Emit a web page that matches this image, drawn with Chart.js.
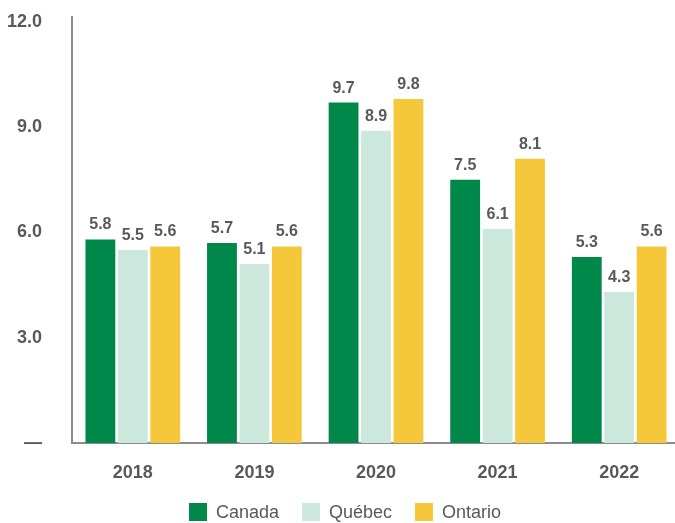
<!DOCTYPE html>
<html>
<head>
<meta charset="utf-8">
<script src="https://cdn.jsdelivr.net/npm/chart.js@4.4.1/dist/chart.umd.min.js"></script>
<style>
  html, body { margin: 0; padding: 0; background: #ffffff; overflow: hidden; }
  #wrap { position: relative; width: 680px; height: 523px; }
  #legend {
    position: absolute; left: 0; top: 503px; width: 690px;
    display: flex; justify-content: center; gap: 23px;
    font: 18px 'Liberation Sans', Arial, sans-serif; color: #595959;
  }
  #legend span { display: flex; align-items: center; height: 18px; line-height: 18px; }
  #legend i { display: inline-block; width: 18px; height: 18px; margin-right: 9px; }
</style>
</head>
<body>
<div id="wrap">
  <canvas id="chart"></canvas>
  <div id="legend"></div>
</div>
<script>
// Unemployment rate by year, Canada vs Québec vs Ontario
const years = ['2018', '2019', '2020', '2021', '2022'];
const canada = [5.8, 5.7, 9.7, 7.5, 5.3];
const quebec = [5.5, 5.1, 8.9, 6.1, 4.3];
const ontario = [5.6, 5.6, 9.8, 8.1, 5.6];
const yTicks = [0, 3, 6, 9, 12];

const seriesNames = ['Canada', 'Québec', 'Ontario'];
const seriesColors = ['#00874a', '#cce7dc', '#f5c83c'];

const TEXT = '#595959';
const AXIS = '#8c8c8c';
const FONT = "'Liberation Sans', Arial, sans-serif";

// Draws the value above each bar
const barValues = {
  id: 'barValues',
  afterDatasetsDraw(chart) {
    const ctx = chart.ctx;
    ctx.save();
    ctx.font = 'bold 16px ' + FONT;
    ctx.fillStyle = TEXT;
    ctx.textAlign = 'center';
    ctx.textBaseline = 'alphabetic';
    chart.data.datasets.forEach((ds, i) => {
      chart.getDatasetMeta(i).data.forEach((bar, j) => {
        ctx.fillText(ds.data[j].toFixed(1), bar.x, bar.y - 10);
      });
    });
    ctx.restore();
  }
};

const chart = new Chart(document.getElementById('chart'), {
  type: 'bar',
  data: {
    labels: years,
    datasets: [
      { label: seriesNames[0], data: canada, backgroundColor: seriesColors[0] },
      { label: seriesNames[1], data: quebec, backgroundColor: seriesColors[1] },
      { label: seriesNames[2], data: ontario, backgroundColor: seriesColors[2] }
    ]
  },
  options: {
    responsive: true,
    maintainAspectRatio: false,
    animation: false,
    layout: { autoPadding: false, padding: { top: 17, left: 5, right: 0, bottom: 42 } },
    datasets: {
      bar: { categoryPercentage: 0.8, barPercentage: 0.92 }
    },
    scales: {
      x: {
        afterFit(scale) { scale.height = 38; },
        grid: { display: false, drawTicks: false },
        border: { display: true, color: AXIS, width: 2 },
        ticks: { color: TEXT, font: { family: FONT, size: 18, weight: 'bold' }, padding: 19 }
      },
      y: {
        min: 0,
        max: 12.14,
        afterBuildTicks(axis) { axis.ticks = yTicks.map(v => ({ value: v })); },
        // fixed width; the big tick padding must not push the plot down
        afterFit(scale) {
          scale.width = 67;
          scale.paddingTop = 0;
          scale.paddingBottom = 0;
        },
        grid: { display: false, drawTicks: false },
        border: { display: true, color: AXIS, width: 2 },
        ticks: {
          color: TEXT,
          font: { family: FONT, size: 18, weight: 'bold' },
          padding: 30,
          callback: v => v === 0 ? '—' : v.toFixed(1)
        }
      }
    },
    plugins: {
      legend: { display: false },
      tooltip: { enabled: false }
    }
  },
  plugins: [barValues]
});

// Legend row under the chart
const legend = document.getElementById('legend');
chart.data.datasets.forEach(ds => {
  const item = document.createElement('span');
  item.innerHTML = `<i style="background:${ds.backgroundColor}"></i>${ds.label}`;
  legend.appendChild(item);
});
</script>
</body>
</html>
